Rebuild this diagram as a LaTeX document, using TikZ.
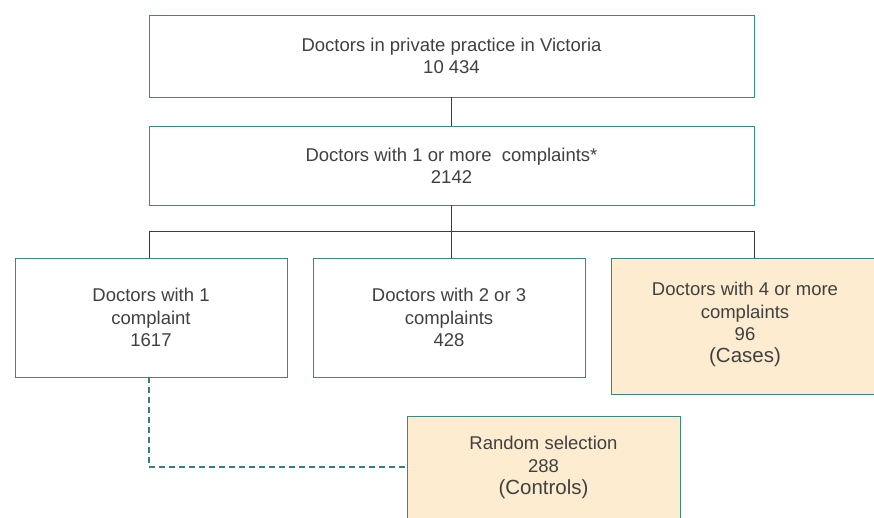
\documentclass[tikz,border=0pt]{standalone}
\usepackage{fontspec}
\setmainfont{Liberation Sans}
\definecolor{teal1}{RGB}{58,136,134}
\definecolor{teal2}{RGB}{52,128,124}
\definecolor{tan1}{RGB}{253,236,207}
\definecolor{txt}{RGB}{64,64,64}
\definecolor{lin}{RGB}{60,60,60}
\newcommand{\lowpad}{\rule[-7pt]{0pt}{7pt}}
\begin{document}
\begin{tikzpicture}[x=1pt,y=-1pt,
  box/.style={draw=teal1,line width=0.9pt,rectangle,align=center,text=txt,
    font=\fontsize{18.5}{22.3}\selectfont,inner sep=0pt},
  hl/.style={box,fill=tan1},
  conn/.style={draw=lin,line width=0.9pt},
  dconn/.style={draw=teal2,line width=2.2pt,dash pattern=on 6pt off 4pt}]
\useasboundingbox (0,0) rectangle (874,517);
\node[box,minimum width=605pt,minimum height=82pt] (top) at (451.5,56)
  {Doctors in private practice in Victoria\\10 434};
\node[box,minimum width=605pt,minimum height=79pt] (one) at (451.5,165.5)
  {Doctors with 1 or more\ \ complaints*\\2142};
\node[box,minimum width=272pt,minimum height=119pt] (a) at (151,317.5)
  {Doctors with 1\\complaint\\1617};
\node[box,minimum width=272pt,minimum height=119pt] (b) at (449,317.5)
  {Doctors with 2 or 3\\complaints\\428};
\node[hl,minimum width=268pt,minimum height=136pt] (c) at (745,326)
  {Doctors with 4 or more\\complaints\\96\\{\fontsize{20.5}{24}\selectfont (Cases)}\lowpad};
\node[hl,minimum width=273pt,minimum height=106pt] (r) at (543.5,469)
  {Random selection\\288\\{\fontsize{20.5}{24}\selectfont (Controls)}\lowpad};
\coordinate (j) at (451,231);
\draw[conn] (top.south -| j) -- (one.north -| j);
\draw[conn] (one.south -| j) -- (j);
\draw[conn] (a.north -| 149,0) -- (149,231) -- (754,231) -- (c.north -| 754,0);
\draw[conn] (j) -- (b.north -| j);
\draw[dconn] (a.south -| 149,0) -- (149,467) -- (r.west |- 0,467);
\end{tikzpicture}
\end{document}
